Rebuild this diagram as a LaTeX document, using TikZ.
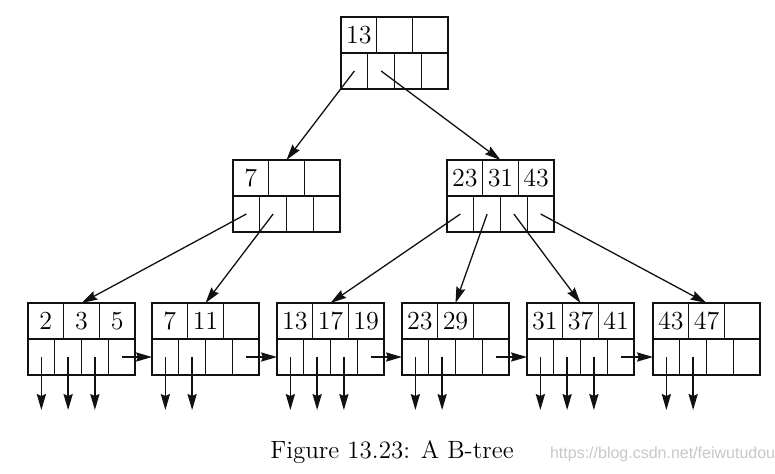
\documentclass[tikz,border=0pt]{standalone}
\usepackage{fontspec}
\usetikzlibrary{arrows.meta,positioning}
\newfontfamily\wmfont{Liberation Sans}
\definecolor{btreeInk}{HTML}{111111}
\definecolor{btreeMark}{HTML}{C8C8C8}
\tikzset{
  keycell/.style={draw=btreeInk, line width=0.7pt, minimum width=17.83pt, minimum height=18pt,
    inner sep=0pt, outer sep=0pt, font=\fontsize{13}{15}\selectfont},
  ptrcell/.style={draw=btreeInk, line width=0.7pt, minimum width=13.375pt, minimum height=18pt,
    inner sep=0pt, outer sep=0pt},
  ptr/.style={draw=btreeInk, line width=0.65pt, -{Stealth[length=8pt,width=4.6pt,inset=1pt]}},
}
% one B-tree node: name, top-left corner x, y, three keys
\newcommand{\btnode}[6]{%
  \node[keycell, anchor=north west] (#1-k1) at (#2,#3) {#4};
  \node[keycell, anchor=north west] (#1-k2) at (#1-k1.north east) {#5};
  \node[keycell, anchor=north west] (#1-k3) at (#1-k2.north east) {#6};
  \node[ptrcell, anchor=north west] (#1-p1) at (#1-k1.south west) {};
  \node[ptrcell, anchor=north west] (#1-p2) at (#1-p1.north east) {};
  \node[ptrcell, anchor=north west] (#1-p3) at (#1-p2.north east) {};
  \node[ptrcell, anchor=north west] (#1-p4) at (#1-p3.north east) {};
  \coordinate (#1-d1) at ([yshift=-26.5pt]#1-p1.center);
  \coordinate (#1-d2) at ([yshift=-26.5pt]#1-p2.center);
  \coordinate (#1-d3) at ([yshift=-26.5pt]#1-p3.center);
}

\begin{document}
\begin{tikzpicture}[x=0.5pt, y=-0.5pt]
  \useasboundingbox[fill=white] (0,0) rectangle (775,473);
  % nodes
  \btnode{root}{341}{17}{13}{}{}
  \btnode{n1}{233}{160}{7}{}{}
  \btnode{n2}{447}{160}{23}{31}{43}
  \btnode{l1}{28}{303}{2}{3}{5}
  \btnode{l2}{152}{303}{7}{11}{}
  \btnode{l3}{277}{303}{13}{17}{19}
  \btnode{l4}{402}{303}{23}{29}{}
  \btnode{l5}{527}{303}{31}{37}{41}
  \btnode{l6}{653}{303}{43}{47}{}
  % child pointers
  \draw[ptr] (root-p1.center) -- (n1-k2.north);
  \draw[ptr] (root-p2.center) -- (n2-k2.north);
  \draw[ptr] (n1-p1.center) -- (l1-k2.north);
  \draw[ptr] (n1-p2.center) -- (l2-k2.north);
  \draw[ptr] (n2-p1.center) -- (l3-k2.north);
  \draw[ptr] (n2-p2.center) -- (l4-k2.north);
  \draw[ptr] (n2-p3.center) -- (l5-k2.north);
  \draw[ptr] (n2-p4.center) -- (l6-k2.north);
  % leaf chain
  \draw[ptr] (l1-p4.center) -- (l2-p1.west);
  \draw[ptr] (l2-p4.center) -- (l3-p1.west);
  \draw[ptr] (l3-p4.center) -- (l4-p1.west);
  \draw[ptr] (l4-p4.center) -- (l5-p1.west);
  \draw[ptr] (l5-p4.center) -- (l6-p1.west);
  % record pointers
  \draw[ptr] (l1-p1.center) -- (l1-d1);
  \draw[ptr] (l1-p2.center) -- (l1-d2);
  \draw[ptr] (l1-p3.center) -- (l1-d3);
  \draw[ptr] (l2-p1.center) -- (l2-d1);
  \draw[ptr] (l2-p2.center) -- (l2-d2);
  \draw[ptr] (l3-p1.center) -- (l3-d1);
  \draw[ptr] (l3-p2.center) -- (l3-d2);
  \draw[ptr] (l3-p3.center) -- (l3-d3);
  \draw[ptr] (l4-p1.center) -- (l4-d1);
  \draw[ptr] (l4-p2.center) -- (l4-d2);
  \draw[ptr] (l5-p1.center) -- (l5-d1);
  \draw[ptr] (l5-p2.center) -- (l5-d2);
  \draw[ptr] (l5-p3.center) -- (l5-d3);
  \draw[ptr] (l6-p1.center) -- (l6-d1);
  \draw[ptr] (l6-p2.center) -- (l6-d2);
  % caption
  \node[anchor=base, font=\fontsize{12.5}{15}\selectfont] (caption) at (392,458) {Figure 13.23: A B-tree};
  \node[anchor=base west, font=\wmfont\fontsize{8}{10}\selectfont, text=btreeMark] (mark) at (543,458) {https://blog.csdn.net/feiwutudou};
\end{tikzpicture}
\end{document}
